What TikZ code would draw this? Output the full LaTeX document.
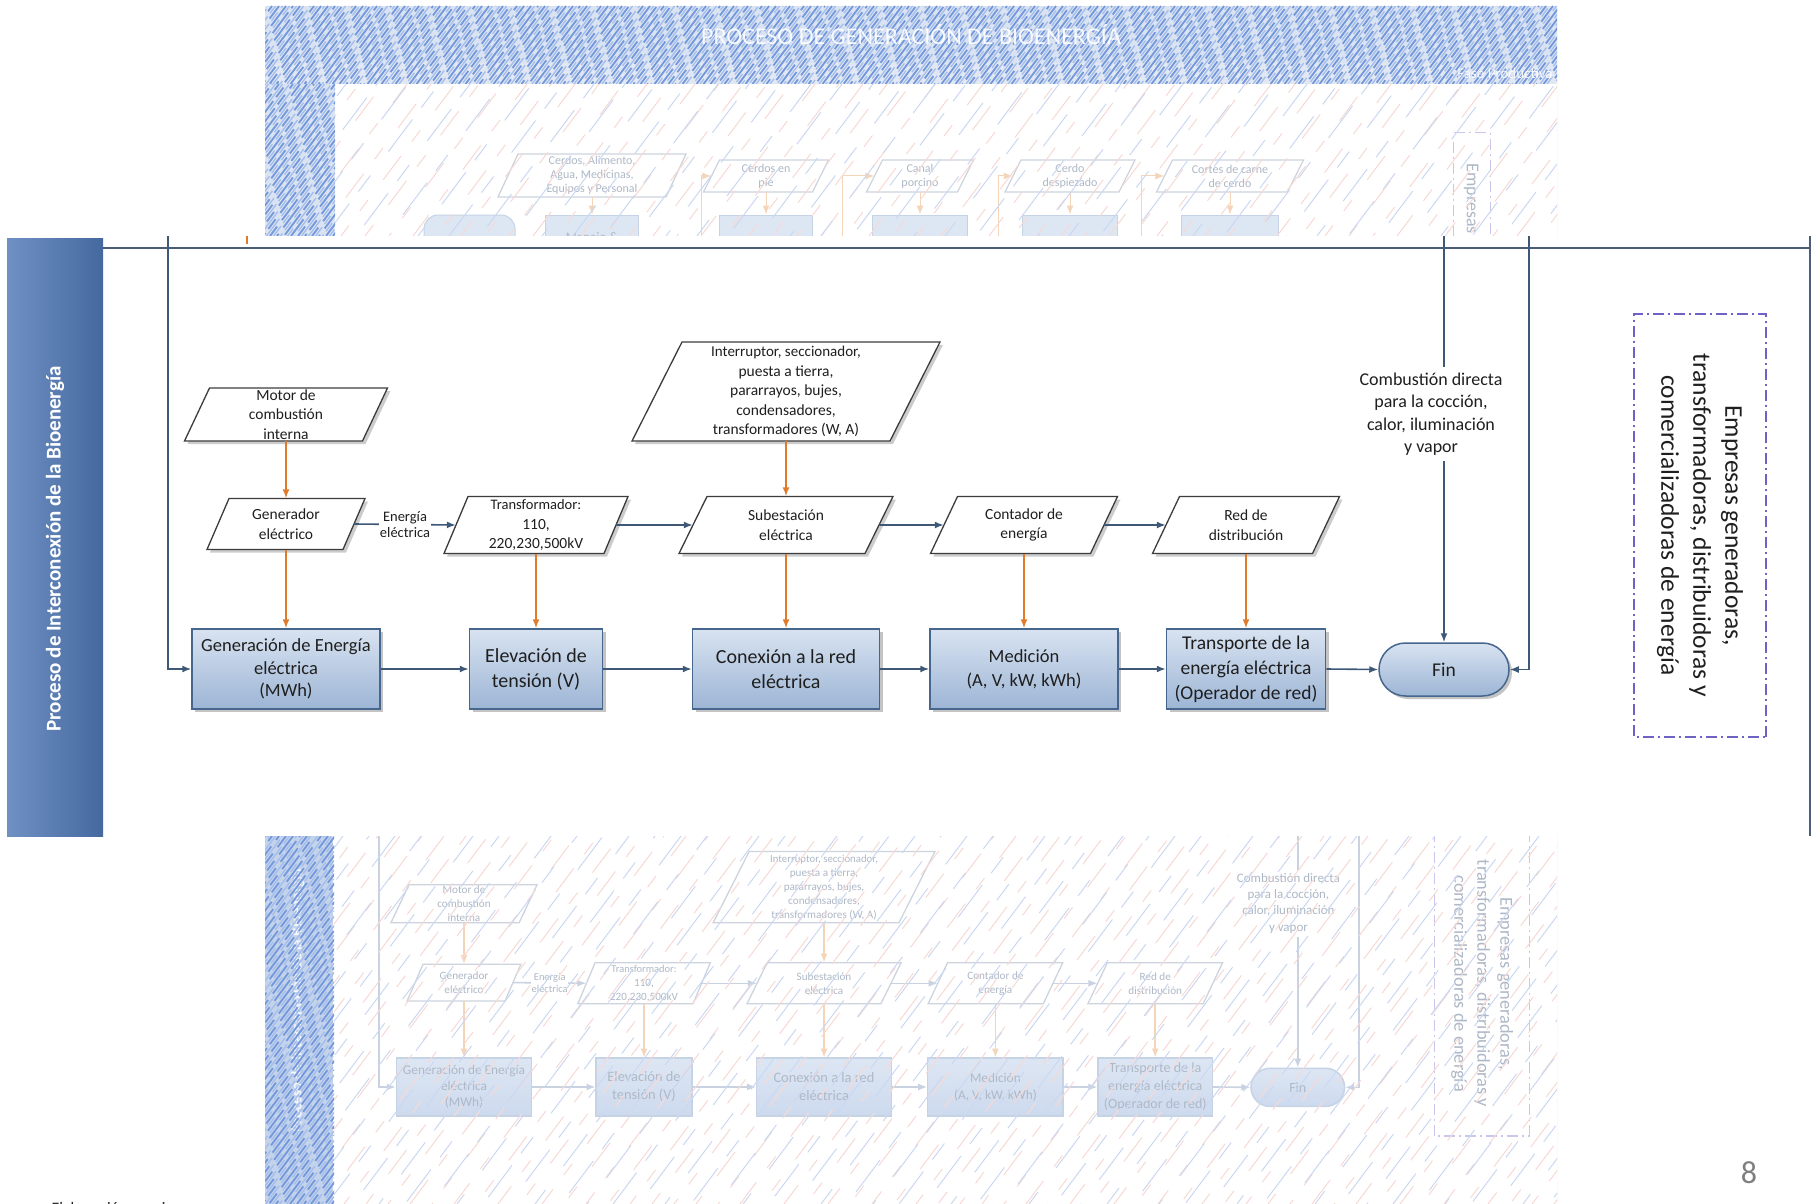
\documentclass[tikz,border=0pt]{standalone}
\usepackage{fontspec}
\setmainfont{Carlito}
\usetikzlibrary{calc,arrows.meta,shapes.misc,shadows}

\definecolor{boxtop}{HTML}{D8E3F1}
\definecolor{boxbot}{HTML}{9DB5D5}
\definecolor{boxline}{HTML}{46668E}
\definecolor{arrB}{HTML}{3E5877}
\definecolor{arrO}{HTML}{E07B2C}
\definecolor{txtc}{HTML}{1F1F1F}
\definecolor{paraline}{HTML}{3C3C3C}
\definecolor{parafill}{HTML}{FFFFFF}
\definecolor{shadowc}{HTML}{ABABAB}
\definecolor{stripA}{HTML}{45699F}
\definecolor{stripB}{HTML}{6F90C3}
\definecolor{striptxt}{HTML}{FFFFFF}
\definecolor{dashc}{HTML}{6E62C6}
\definecolor{bandln}{HTML}{4A5E78}
\definecolor{hatchA}{HTML}{7398DB}
\definecolor{hatchB}{HTML}{A3BCEA}
\definecolor{hatchP}{HTML}{F7DAD5}
\definecolor{hatchL}{HTML}{CBD8F2}
\definecolor{hbase}{HTML}{D9E3F2}
\definecolor{hbase2}{HTML}{E1E8F3}
\definecolor{pgnum}{HTML}{7F7F7F}

\newcommand\fs[2]{\fontsize{#1}{#2}\selectfont}

\newcommand\fadecolors{%
  \definecolor{boxtop}{HTML}{DDE6F3}%
  \definecolor{boxbot}{HTML}{CDDAEE}%
  \definecolor{boxline}{HTML}{C6D3E5}%
  \definecolor{arrB}{HTML}{C8D2E0}%
  \definecolor{arrO}{HTML}{F5D5BA}%
  \definecolor{txtc}{HTML}{AEB8C6}%
  \definecolor{paraline}{HTML}{CDD4DE}%
  \definecolor{shadowc}{HTML}{FFFFFF}%
  \definecolor{stripA}{HTML}{C4D3EC}%
  \definecolor{stripB}{HTML}{C4D3EC}%
  \definecolor{striptxt}{HTML}{F4F7FC}%
  \definecolor{dashc}{HTML}{CBC6EC}%
  \definecolor{bandln}{HTML}{D2DAE5}}

\tikzset{
  bx/.style={draw=boxline, line width=1.5pt, top color=boxtop, bottom color=boxbot,
    text=txtc, align=center, inner sep=2pt, font=\fs{19.5}{25},
    drop shadow={shadow xshift=3pt, shadow yshift=-3pt, fill=shadowc, opacity=0.7}},
  parashd/.style={fill=shadowc, opacity=0.6},
  parashape/.style={fill=parafill, draw=paraline, line width=1.3pt},
  paranode/.style={text=txtc, align=center, inner sep=1pt, font=\fs{15.5}{19.5}},
  ab/.style={draw=arrB, line width=1.6pt, -{Latex[length=9pt,width=7pt]}},
  ao/.style={draw=arrO, line width=1.6pt, -{Latex[length=9pt,width=7pt]}},
  elbl/.style={fill=white, text=txtc, align=center, inner sep=1pt, font=\fs{14.5}{16}},
  cmbtxt/.style={text=txtc, align=center, inner sep=5pt, font=\fs{18}{22.5}},
  dbox/.style={draw=dashc, line width=1.6pt, dash pattern=on 11pt off 4pt on 2pt off 4pt,
    text=txtc, align=center, font=\fs{25.5}{32}},
  striptext/.style={rotate=90, text=striptxt, font=\bfseries\fs{21}{24}},
  bandline/.style={draw=bandln, line width=1.8pt},
  bh1/.style={draw=hatchA, line width=1.8pt, dash pattern=on 26pt off 5pt on 12pt off 8pt},
  bh2/.style={draw=hatchB, line width=1.3pt, dash pattern=on 10pt off 6pt on 32pt off 4pt},
  ph1/.style={draw=hatchP, line width=1pt, dash pattern=on 30pt off 18pt on 14pt off 25pt},
  ph2/.style={draw=hatchL, line width=1pt, dash pattern=on 20pt off 30pt on 40pt off 15pt},
  tbx/.style={draw=boxline, line width=1pt, fill=boxtop, text=txtc, align=center, font=\fs{13}{15}},
}

% parallelogram: name, cx, cy, W, H, slant, text
\newcommand\para[7]{%
  \fill[parashd] ({#2-#4/2+3},{#3+#5/2+3}) -- ({#2+#4/2-#6+3},{#3+#5/2+3})
     -- ({#2+#4/2+3},{#3-#5/2+3}) -- ({#2-#4/2+#6+3},{#3-#5/2+3}) -- cycle;
  \filldraw[parashape] ({#2-#4/2},{#3+#5/2}) -- ({#2+#4/2-#6},{#3+#5/2})
     -- ({#2+#4/2},{#3-#5/2}) -- ({#2-#4/2+#6},{#3-#5/2}) -- cycle;
  \node[paranode, minimum width={#4-#6}, minimum height=#5] (#1) at (#2,#3) {#7};}

% hatching: x1,y1,x2,y2,style,step,offset
\newcommand\hatchrect[7]{%
  \begin{scope}
    \clip (#1,#2) rectangle (#3,#4);
    \pgfmathsetmacro\hH{#4-#2}
    \pgfmathsetmacro\hA{#1-0.75*\hH+#7}
    \pgfmathsetmacro\hB{\hA+#6}
    \foreach \hx in {\hA,\hB,...,#3}{%
      \pgfmathsetmacro\ph{mod(abs(\hx),41)*1.3}
      \draw[#5, dash phase=\ph pt] (\hx,#4) -- ++({0.75*\hH},{-\hH});}
  \end{scope}}

\newcommand\flowchart[1]{%
  \fill[left color=stripB, right color=stripA] (7,238) rectangle (103,836);
  \node[striptext] (#1hdr) at (55,549) {Proceso de Interconexión de la Bioenergía};
  \draw[bandline] (103,248) -- (1810,248);
  \draw[bandline] (1810,236) -- (1810,836);
  \coordinate (#1tl) at (168,236);
  \coordinate (#1tc) at (1444,236);
  \coordinate (#1tr) at (1529,236);
  \para{#1mot}{286}{414.5}{203}{53}{25}{Motor de\\combustión\\interna}
  \para{#1gnr}{286}{524}{158}{51}{22}{Generador\\eléctrico}
  \para{#1trf}{536}{525}{184}{57}{24}{\fs{14.5}{17.5}Transformador:\\110,\\220,230,500kV}
  \para{#1int}{786}{391.5}{308}{99}{50}{\fs{15}{19}Interruptor, seccionador,\\puesta a tierra,\\pararrayos, bujes,\\condensadores,\\transformadores (W, A)}
  \para{#1sub}{786}{525}{214}{57}{28}{Subestación\\eléctrica}
  \para{#1con}{1024}{525}{187}{57}{27}{Contador de\\energía}
  \para{#1red}{1246}{525}{187}{57}{27}{Red de\\distribución}
  \node[bx, font=\fs{18.5}{22.5}, minimum width=188, minimum height=80] (#1gen) at (286,669) {Generación de Energía\\eléctrica\\(MWh)};
  \node[bx, font=\fs{20}{25}, minimum width=133, minimum height=80] (#1elv) at (536,669) {Elevación de\\tensión (V)};
  \node[bx, font=\fs{20}{25}, minimum width=187, minimum height=80] (#1cnx) at (786,669) {Conexión a la red\\eléctrica};
  \node[bx, font=\fs{18.5}{24}, minimum width=188, minimum height=80] (#1med) at (1024,669) {Medición\\(A, V, kW, kWh)};
  \node[bx, minimum width=159, minimum height=80] (#1trn) at (1246,669) {Transporte de la\\energía eléctrica\\(Operador de red)};
  \node[bx, rounded rectangle, minimum width=134, minimum height=53] (#1fin) at (1444,669.5) {Fin};
  \node[cmbtxt] (#1cmb) at (1431,414) {Combustión directa\\para la cocción,\\calor, iluminación\\y vapor};
  \node[dbox, rotate=-90, minimum width=423, minimum height=132] (#1emp) at (1700,525.5)
     {Empresas generadoras,\\transformadoras, distribuidoras y\\comercializadoras de energía};
  \draw[ao] (#1mot.south) -- (#1gnr.north);
  \draw[ao] (#1gnr.south) -- (#1gen.north);
  \draw[ao] (#1trf.south) -- (#1elv.north);
  \draw[ao] (#1int.south) -- (#1sub.north);
  \draw[ao] (#1sub.south) -- (#1cnx.north);
  \draw[ao] (#1con.south) -- (#1med.north);
  \draw[ao] (#1red.south) -- (#1trn.north);
  \draw[ab] (#1gnr.east) -- node[elbl] (#1ee) {Energía\\eléctrica} (#1trf.west);
  \draw[ab] (#1trf.east) -- (#1sub.west);
  \draw[ab] (#1sub.east) -- (#1con.west);
  \draw[ab] (#1con.east) -- (#1red.west);
  \draw[ab] (#1gen.east) -- (#1elv.west);
  \draw[ab] (#1elv.east) -- (#1cnx.west);
  \draw[ab] (#1cnx.east) -- (#1med.west);
  \draw[ab] (#1med.east) -- (#1trn.west);
  \draw[ab] (#1trn.east) -- (#1fin.west);
  \draw[ab] (#1tl) |- (#1gen.west);
  \draw[ab] (#1tr) |- (#1fin.east);
  \draw[draw=arrB, line width=1.6pt] (#1tc) -- (#1tc |- #1cmb.north);
  \draw[ab] (#1tc |- #1cmb.south) -- (#1fin.north);
}

\begin{document}
\begin{tikzpicture}[x=1pt,y=-1pt]
\useasboundingbox (0,0) rectangle (1816,1204);
\fill[white] (0,0) rectangle (1816,1204);

% ---------- faded top region ----------
\begin{scope}
  \clip (265,6) rectangle (1557,236);
  \fadecolors
  \tikzset{paranode/.append style={font=\fs{12}{14}}}
  \fill[hbase] (265,6) rectangle (1557,63);
  \fill[hbase2] (265,63) rectangle (1557,84);
  \fill[hbase] (265,84) rectangle (335,236);
  \hatchrect{265}{6}{1557}{84}{bh2}{7}{3.5}
  \hatchrect{265}{6}{1557}{84}{bh1}{7}{0}
  \hatchrect{265}{84}{335}{236}{bh2}{7}{3.5}
  \hatchrect{265}{84}{335}{236}{bh1}{7}{0}
  \node[text=white, opacity=0.9, font=\fs{24}{26}] (ttl) at (911,35) {PROCESO DE GENERACIÓN DE BIOENERGÍA};
  \node[text=white, opacity=0.9, font=\fs{15}{17}] (fase) at (1505,73) {Fase Productiva};
  \draw[draw=bandln, line width=1pt] (1557,6) -- (1557,236);
  \para{tA}{592}{175.5}{188}{43}{20}{Cerdos, Alimento,\\Agua, Medicinas,\\Equipos y Personal}
  \para{tB}{766}{176}{125}{32}{16}{Cerdos en\\pie}
  \para{tC}{920}{176}{107}{32}{16}{Canal\\porcino}
  \para{tD}{1070}{176}{130}{32}{16}{Cerdo\\despiezado}
  \para{tE}{1230}{176}{147}{32}{16}{Cortes de carne\\de cerdo}
  \node[tbx, rounded corners=14pt, minimum width=91, minimum height=46] (tT) at (469.5,238) {};
  \node[tbx, minimum width=93, minimum height=46] (tM) at (592,238) {Manejo \&};
  \node[tbx, minimum width=93, minimum height=46] (t3) at (766,238) {};
  \node[tbx, minimum width=95, minimum height=46] (t4) at (920,238) {};
  \node[tbx, minimum width=95, minimum height=46] (t5) at (1070,238) {};
  \node[tbx, minimum width=97, minimum height=46] (t6) at (1230,238) {};
  \draw[ao, line width=1pt] (tA.south) -- (tM.north);
  \draw[ao, line width=1pt] (tB.south) -- (t3.north);
  \draw[ao, line width=1pt] (tC.south) -- (t4.north);
  \draw[ao, line width=1pt] (tD.south) -- (t5.north);
  \draw[ao, line width=1pt] (tE.south) -- (t6.north);
  \coordinate (tv1) at (701,250);
  \coordinate (tv2) at (842,250);
  \coordinate (tv3) at (998,250);
  \coordinate (tv4) at (1141,250);
  \draw[ao, line width=1pt] (tv1) |- (tB.west);
  \draw[ao, line width=1pt] (tv2) |- (tC.west);
  \draw[ao, line width=1pt] (tv3) |- (tD.west);
  \draw[ao, line width=1pt] (tv4) |- (tE.west);
  \node[dbox, line width=1pt, minimum width=37, minimum height=127] (tDB) at (1471.5,196.5) {};
  \node[rotate=-90, anchor=west, text=txtc, font=\fs{18}{20}] (tEmp) at (1471.5,160) {Empresas generadoras,};
  \hatchrect{335}{84}{1557}{236}{ph1}{24}{0}
  \hatchrect{335}{84}{1557}{236}{ph2}{31}{11}
\end{scope}

% ---------- faded bottom region ----------
\begin{scope}
  \clip (265,836) rectangle (1557,1204);
  \fadecolors
  \begin{scope}[shift={(258.1,605.3)}, scale=0.72, transform shape]
    \flowchart{f}
  \end{scope}
  \draw[draw=bandln, line width=1pt] (1557,836) -- (1557,1204);
  \hatchrect{265}{836}{334}{1204}{bh2}{7}{3.5}
  \hatchrect{265}{836}{334}{1204}{bh1}{7}{0}
  \hatchrect{334}{836}{1557}{1204}{ph1}{22}{0}
  \hatchrect{334}{836}{1557}{1204}{ph2}{26}{9}
\end{scope}

% ---------- main band ----------
\fill[white] (0,236) rectangle (1816,836);
\draw[draw=arrO, line width=1.6pt] (247,236) -- (247,244);
\flowchart{m}

% ---------- page decorations ----------
\node[text=pgnum, font=\fs{32}{36}] (pg) at (1749,1173) {8};
\node[anchor=base west, text=txtc, font=\fs{16}{18}] (src) at (48,1213) {Elaboración propia};
\end{tikzpicture}
\end{document}
